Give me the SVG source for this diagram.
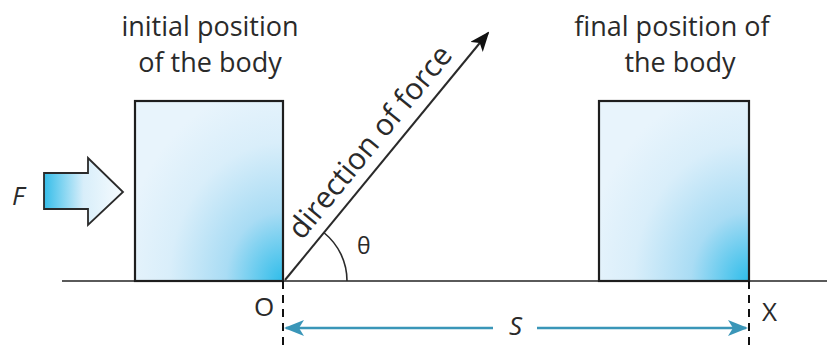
<svg xmlns="http://www.w3.org/2000/svg" width="827" height="358" viewBox="0 0 827 358">
<style>
text{font-family:"Open Sans","Noto Sans","Liberation Sans",sans-serif;fill:#2a2a2a}
.lbl{font-size:27px;text-anchor:middle}
.sym{font-size:26px}
.box{stroke:#1e1e1e;stroke-width:2.2}
.dash{stroke:#111;stroke-width:2;stroke-dasharray:8,6;fill:none}
.teal{stroke:#3a96b8;stroke-width:2.6;fill:none}
</style>
<defs>
<radialGradient id="boxg" cx="1" cy="1" r="1.1" gradientUnits="objectBoundingBox">
<stop offset="0" stop-color="#2fbdea"/>
<stop offset="0.35" stop-color="#a9dcf4"/>
<stop offset="0.7" stop-color="#d9eefa"/>
<stop offset="1" stop-color="#e8f4fc"/>
</radialGradient>
<linearGradient id="fg" x1="0" y1="0" x2="1" y2="0">
<stop offset="0" stop-color="#35bde9"/>
<stop offset="0.5" stop-color="#d8eefa"/>
<stop offset="1" stop-color="#f6fbfe"/>
</linearGradient>
<marker id="blk" viewBox="0 0 20 16" refX="18" refY="8" markerWidth="20" markerHeight="16" markerUnits="userSpaceOnUse" orient="auto">
<path d="M0,0 L20,8 L0,16 L5,8 Z" fill="#111"/>
</marker>
<marker id="tl" viewBox="0 0 20 16" refX="18" refY="8" markerWidth="20" markerHeight="16" markerUnits="userSpaceOnUse" orient="auto-start-reverse">
<path d="M0,0 L20,8 L0,16 L5,8 Z" fill="#3a96b8"/>
</marker>
</defs>
<rect width="827" height="358" fill="#ffffff"/>
<g id="ground">
<line x1="62" y1="281" x2="827" y2="281" stroke="#5a5a5a" stroke-width="1.8"/>
</g>
<g id="initial-body">
<rect class="box" x="135" y="101" width="148" height="180" fill="url(#boxg)"/>
<text class="lbl" x="210" y="36">initial position</text>
<text class="lbl" x="210" y="72">of the body</text>
</g>
<g id="final-body">
<rect class="box" x="599" y="101" width="150" height="180" fill="url(#boxg)"/>
<text class="lbl" x="672" y="36">final position of</text>
<text class="lbl" x="680" y="72">the body</text>
</g>
<g id="force-arrow">
<polygon points="44,173 88,173 88,158 123,192 88,225 88,209 44,209" fill="url(#fg)" stroke="#2a2a2a" stroke-width="1.8" stroke-linejoin="miter"/>
<text class="sym" x="12" y="205" font-style="italic">F</text>
</g>
<g id="labels">
<text class="sym" x="254" y="316">O</text>
<text class="sym" x="762" y="321">X</text>
<text class="sym" x="509" y="335" font-style="italic">S</text>
<text x="357" y="254" font-size="23">θ</text>
<text x="0" y="0" font-size="30" transform="translate(302,241) rotate(-50.7)">direction of force</text>
</g>
<g id="connectors">
<line x1="285" y1="280" x2="488" y2="33" stroke="#2a2a2a" stroke-width="2" marker-end="url(#blk)"/>
<path d="M347,281 A62,62 0 0 0 324.3,233" fill="none" stroke="#2a2a2a" stroke-width="1.6"/>
<line class="dash" x1="283" y1="281" x2="283" y2="346"/>
<line class="dash" x1="749" y1="281" x2="749" y2="346"/>
<line class="teal" x1="286" y1="328" x2="493" y2="328" marker-start="url(#tl)"/>
<line class="teal" x1="537" y1="328" x2="746" y2="328" marker-end="url(#tl)"/>
</g>
</svg>
